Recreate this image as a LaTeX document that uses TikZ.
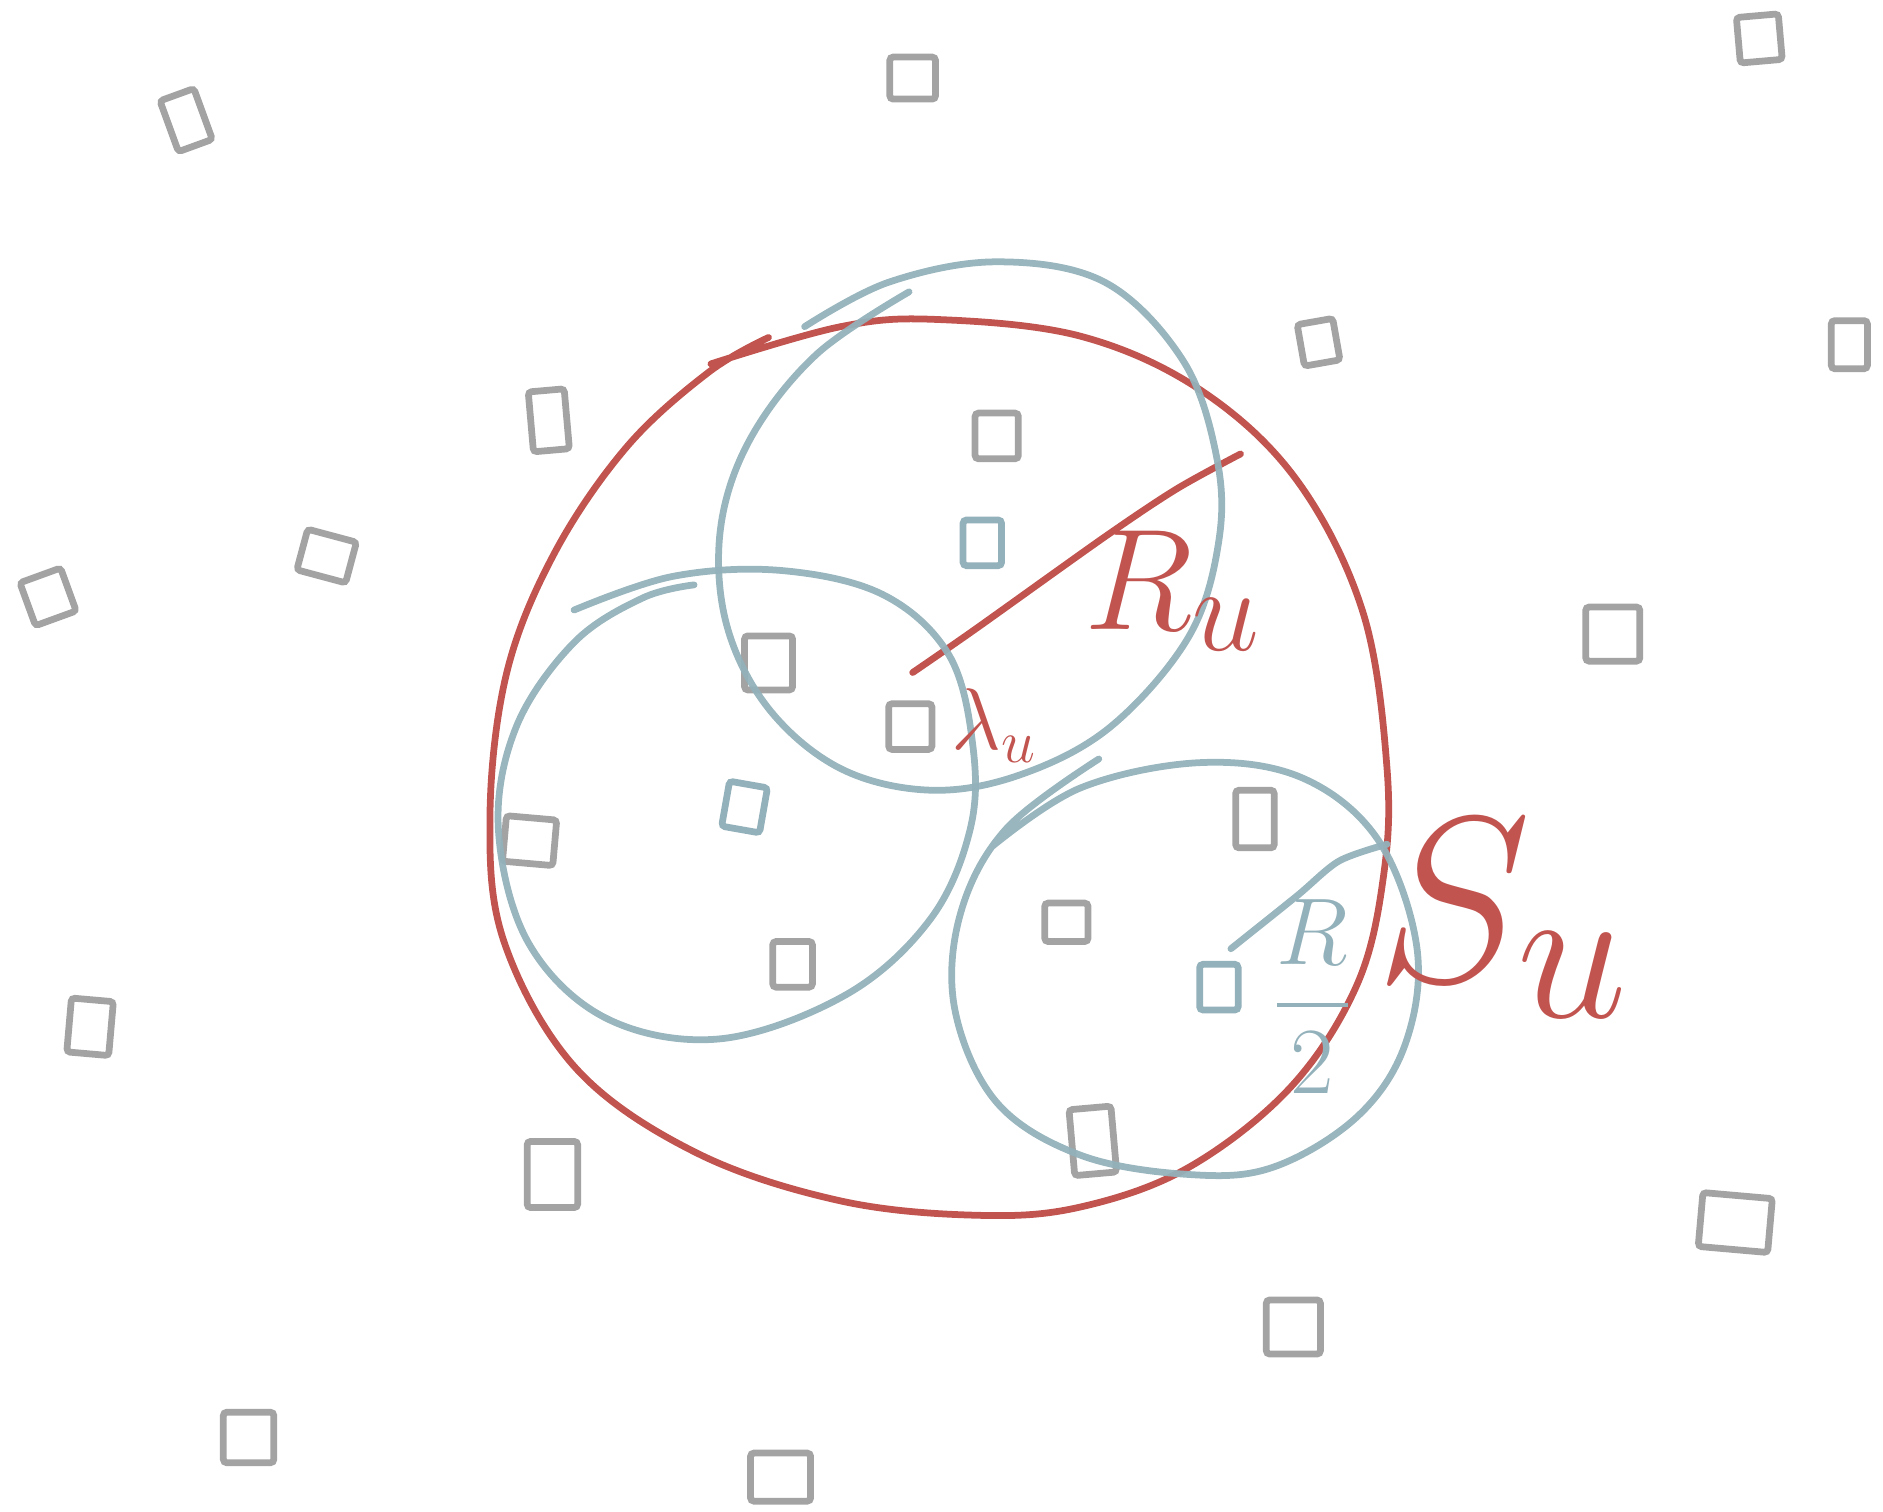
\documentclass[tikz,border=0pt]{standalone}
\usepackage{amsmath}
\usepackage{xcolor}
\usepackage{tikz}
\definecolor{gris}{HTML}{A3A3A3}
\definecolor{azul}{HTML}{93B1BA}
\definecolor{rojo}{HTML}{C25450}

\begin{document}
\begin{tikzpicture}[x=0.01cm,y=-0.01cm,
  pt/.style={draw=gris,line width=1.6pt,rounded corners=0.8pt,inner sep=0pt,
             minimum width=0.36cm,minimum height=0.38cm},
  ptb/.style={pt,draw=azul},
  tr/.style={line width=1.6pt,line cap=round,draw=rojo},
  ta/.style={line width=1.6pt,line cap=round,draw=azul,opacity=0.95},
  et/.style={text=rojo,inner sep=0pt}]
  \useasboundingbox (0,0) rectangle (1568,1259);
  % puntos
  \node[pt,minimum width=0.3cm,minimum height=0.45cm,rotate=20] (p1) at (155,100) {};
  \node[pt,minimum width=0.38cm,minimum height=0.35cm] (p2) at (760,65) {};
  \node[pt,minimum width=0.35cm,minimum height=0.38cm,rotate=5] (p3) at (1465,32) {};
  \node[pt,minimum width=0.3cm,minimum height=0.35cm,rotate=10] (p4) at (1098,285) {};
  \node[pt,minimum width=0.3cm,minimum height=0.4cm] (p5) at (1540,287) {};
  \node[pt,minimum width=0.3cm,minimum height=0.5cm,rotate=5] (p6) at (457,350) {};
  \node[pt] (p7) at (830,363) {};
  \node[pt,minimum width=0.42cm,minimum height=0.35cm,rotate=-15] (p8) at (272,463) {};
  \node[pt,rotate=20] (p9) at (40,497) {};
  \node[pt,minimum width=0.45cm,minimum height=0.45cm] (p10) at (1343,528) {};
  \node[pt,minimum width=0.4cm,minimum height=0.45cm] (p11) at (640,552) {};
  \node[pt] (p12) at (758,605) {};
  \node[pt,minimum width=0.32cm,minimum height=0.48cm] (p13) at (1045,682) {};
  \node[pt,minimum width=0.42cm,rotate=-5] (p14) at (441,700) {};
  \node[pt,minimum height=0.32cm] (p15) at (888,768) {};
  \node[pt,minimum width=0.33cm] (p16) at (660,803) {};
  \node[pt,minimum width=0.35cm,minimum height=0.45cm,rotate=-5] (p17) at (75,855) {};
  \node[pt,minimum width=0.42cm,minimum height=0.55cm] (p18) at (460,978) {};
  \node[pt,minimum width=0.35cm,minimum height=0.55cm,rotate=5] (p19) at (910,950) {};
  \node[pt,minimum width=0.58cm,minimum height=0.45cm,rotate=-5] (p20) at (1445,1018) {};
  \node[pt,minimum width=0.45cm,minimum height=0.45cm] (p21) at (1077,1105) {};
  \node[pt,minimum width=0.42cm,minimum height=0.42cm] (p22) at (207,1197) {};
  \node[pt,minimum width=0.5cm,minimum height=0.4cm] (p23) at (650,1230) {};
  \node[ptb,minimum width=0.32cm] (b1) at (818,452) {};
  \node[ptb,minimum width=0.32cm,rotate=-10] (b2) at (620,672) {};
  \node[ptb,minimum width=0.32cm] (b3) at (1015,822) {};
  % region S_u
  \draw[tr] plot[smooth,tension=0.6] coordinates {(592,303) (700,272) (780,266) (900,280)
    (1000,325) (1080,400) (1135,510) (1155,640) (1152,730) (1130,820) (1075,905)
    (990,972) (900,1005) (815,1012) (700,1000) (580,960) (480,890) (420,785)
    (408,680) (422,560) (462,460) (522,372) (590,310) (640,281)};
  \draw[tr] plot[smooth] coordinates {(760,560) (812,524) (920,447) (980,407) (1033,378)};
  % discos
  \draw[ta] plot[smooth,tension=0.6] coordinates {(670,272) (740,235) (830,218) (920,235)
    (985,300) (1013,380) (1015,450) (990,530) (925,605) (850,645) (775,658) (700,640)
    (640,590) (605,520) (600,440) (625,365) (680,295) (757,243)};
  \draw[ta] plot[smooth,tension=0.6] coordinates {(478,508) (560,480) (650,475) (735,495)
    (790,545) (810,620) (808,690) (775,765) (705,828) (600,865) (505,848) (440,785)
    (415,690) (430,605) (478,535) (535,498) (578,487)};
  \draw[ta] plot[smooth,tension=0.6] coordinates {(826,705) (900,656) (1000,635) (1085,648)
    (1148,700) (1180,790) (1170,870) (1130,930) (1060,972) (990,978) (900,962)
    (830,918) (795,840) (800,760) (838,690) (915,632)};
  \draw[ta] plot[smooth] coordinates {(1025,790) (1080,746) (1115,717) (1155,703)};
  % etiquetas
  \node[et,font=\Huge,scale=1.37] (Ru) at (977,492) {$R_u$};
  \node[et,font=\fontsize{20}{24}\selectfont] (lu) at (828,604) {$\lambda_u$};
  \node[et,font=\Huge,scale=2.25] (Su) at (1252,765) {$S_u$};
  \node[text=azul,inner sep=0pt,font=\LARGE,scale=1.3] (R2) at (1093,830) {$\dfrac{R}{2}$};
\end{tikzpicture}
\end{document}
